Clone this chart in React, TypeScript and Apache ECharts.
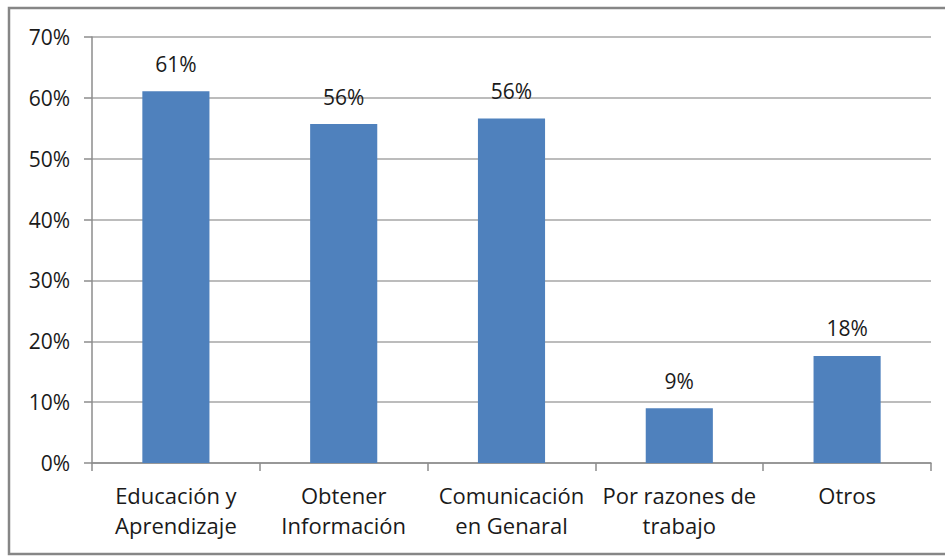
import React, { useEffect, useRef } from "react";
import * as echarts from "echarts";

const categories = [
  "Educación y\nAprendizaje",
  "Obtener\nInformación",
  "Comunicación\nen Genaral",
  "Por razones de\ntrabajo",
  "Otros",
];
const values = [61.1, 55.7, 56.6, 9.0, 17.6];
const valueLabels = ["61%", "56%", "56%", "9%", "18%"];

const FONT = "'Open Sans', 'Noto Sans', sans-serif";

export default function App() {
  const ref = useRef<HTMLDivElement>(null);
  useEffect(() => {
    document.body.style.margin = "0";
    const chart = echarts.init(ref.current!, undefined, { renderer: "svg" });
    chart.setOption({
      animation: false,
      backgroundColor: "#ffffff",
      graphic: [
        {
          type: "rect",
          shape: { x: 9, y: 8, width: 950, height: 546 },
          style: { fill: "none", stroke: "#868686", lineWidth: 2.5 },
          silent: true,
        },
      ],
      grid: { left: 92, top: 37, right: 14, bottom: 93 },
      xAxis: {
        type: "category",
        data: categories,
        axisLine: { lineStyle: { color: "#8c8c8c", width: 1.5 } },
        axisTick: { show: true, length: 8, lineStyle: { color: "#8c8c8c", width: 1.5 } },
        axisLabel: {
          interval: 0,
          color: "#1a1a1a",
          fontFamily: FONT,
          fontSize: 22,
          lineHeight: 30,
          margin: 17,
        },
      },
      yAxis: {
        type: "value",
        min: 0,
        max: 70,
        interval: 10,
        axisLine: { show: true, lineStyle: { color: "#8c8c8c", width: 1.5 } },
        axisTick: { show: true, length: 8, lineStyle: { color: "#8c8c8c", width: 1.5 } },
        splitLine: { lineStyle: { color: "#a6a6a6", width: 1.5 } },
        axisLabel: {
          formatter: "{value}%",
          color: "#1a1a1a",
          fontFamily: FONT,
          fontSize: 21,
          margin: 22,
        },
      },
      series: [
        {
          type: "bar",
          data: values,
          barWidth: "40%",
          itemStyle: { color: "#4f81bd" },
          label: {
            show: true,
            position: "top",
            distance: 17,
            color: "#1a1a1a",
            fontFamily: FONT,
            fontSize: 21,
            formatter: (p: any) => valueLabels[p.dataIndex],
          },
        },
      ],
    });
    return () => chart.dispose();
  }, []);
  return <div ref={ref} style={{ width: 945, height: 556 }} />;
}
